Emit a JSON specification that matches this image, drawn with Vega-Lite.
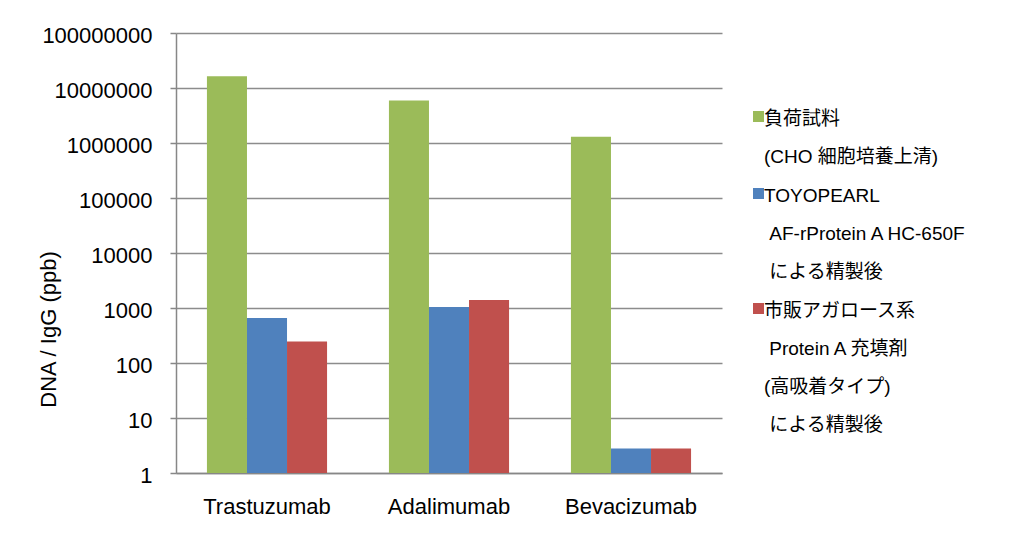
{
  "$schema": "https://vega.github.io/schema/vega-lite/v6.json",
  "width": 546,
  "height": 440,
  "autosize": {"type": "none"},
  "padding": {"left": 176, "top": 33, "right": 302, "bottom": 83},
  "background": "white",
  "data": {
    "values": [
      {"drug": "Trastuzumab", "series": "負荷試料|(CHO 細胞培養上清)", "value": 16300000},
      {"drug": "Trastuzumab", "series": "TOYOPEARL|\u200b\u00a0AF-rProtein A HC-650F|\u200b\u00a0による精製後", "value": 660},
      {"drug": "Trastuzumab", "series": "市販アガロース系|\u200b\u00a0Protein A 充填剤|(高吸着タイプ)|\u200b\u00a0による精製後", "value": 247},
      {"drug": "Adalimumab", "series": "負荷試料|(CHO 細胞培養上清)", "value": 5900000},
      {"drug": "Adalimumab", "series": "TOYOPEARL|\u200b\u00a0AF-rProtein A HC-650F|\u200b\u00a0による精製後", "value": 1040},
      {"drug": "Adalimumab", "series": "市販アガロース系|\u200b\u00a0Protein A 充填剤|(高吸着タイプ)|\u200b\u00a0による精製後", "value": 1400},
      {"drug": "Bevacizumab", "series": "負荷試料|(CHO 細胞培養上清)", "value": 1300000},
      {"drug": "Bevacizumab", "series": "TOYOPEARL|\u200b\u00a0AF-rProtein A HC-650F|\u200b\u00a0による精製後", "value": 2.8},
      {"drug": "Bevacizumab", "series": "市販アガロース系|\u200b\u00a0Protein A 充填剤|(高吸着タイプ)|\u200b\u00a0による精製後", "value": 2.8}
    ]
  },
  "mark": {"type": "bar"},
  "encoding": {
    "x": {
      "field": "drug",
      "type": "nominal",
      "sort": ["Trastuzumab", "Adalimumab", "Bevacizumab"],
      "scale": {"paddingInner": 0.34, "paddingOuter": 0.17},
      "axis": {
        "title": null,
        "labelAngle": 0,
        "ticks": false,
        "tickSize": 0,
        "labelPadding": 30,
        "labelFontSize": 22,
        "domainColor": "#878787",
        "domainWidth": 1.5,
        "grid": false
      }
    },
    "xOffset": {
      "field": "series",
      "sort": [
        "負荷試料|(CHO 細胞培養上清)",
        "TOYOPEARL|\u200b\u00a0AF-rProtein A HC-650F|\u200b\u00a0による精製後",
        "市販アガロース系|\u200b\u00a0Protein A 充填剤|(高吸着タイプ)|\u200b\u00a0による精製後"
      ],
      "scale": {"paddingInner": 0, "paddingOuter": 0}
    },
    "y": {
      "field": "value",
      "type": "quantitative",
      "stack": null,
      "scale": {"type": "log", "domain": [1, 100000000], "nice": false},
      "axis": {
        "values": [1, 10, 100, 1000, 10000, 100000, 1000000, 10000000, 100000000],
        "format": "d",
        "labelFontSize": 22,
        "labelPadding": 18,
        "labelOffset": 9,
        "tickSize": 6,
        "tickColor": "#878787",
        "tickWidth": 1.5,
        "domainColor": "#878787",
        "domainWidth": 1.5,
        "gridColor": "#8c8c8c",
        "gridWidth": 1.5,
        "title": "DNA / IgG (ppb)",
        "titleFontSize": 22,
        "titleFontWeight": "normal",
        "titleX": -116,
        "titleY": 296
      }
    },
    "y2": {"datum": 1},
    "color": {
      "field": "series",
      "type": "nominal",
      "scale": {
        "domain": [
          "負荷試料|(CHO 細胞培養上清)",
          "TOYOPEARL|\u200b\u00a0AF-rProtein A HC-650F|\u200b\u00a0による精製後",
          "市販アガロース系|\u200b\u00a0Protein A 充填剤|(高吸着タイプ)|\u200b\u00a0による精製後"
        ],
        "range": ["#9BBB59", "#4F81BD", "#C0504D"]
      },
      "legend": {
        "orient": "none",
        "legendX": 573,
        "legendY": 74,
        "title": null,
        "padding": 0,
        "labelExpr": "split(datum.label, '|')",
        "labelFontSize": 19,
        "labelLimit": 400,
        "labelOffset": -4,
        "labelBaseline": "top",
        "symbolType": "square",
        "symbolSize": 121,
        "symbolStrokeWidth": 0,
        "rowPadding": 17
      }
    }
  },
  "config": {
    "font": "Liberation Sans, Noto Sans CJK JP",
    "style": {"guide-label": {"lineHeight": 38, "dy": -7}},
    "view": {"stroke": null},
    "axis": {"labelColor": "black", "titleColor": "black"},
    "legend": {"labelColor": "black"}
  }
}
